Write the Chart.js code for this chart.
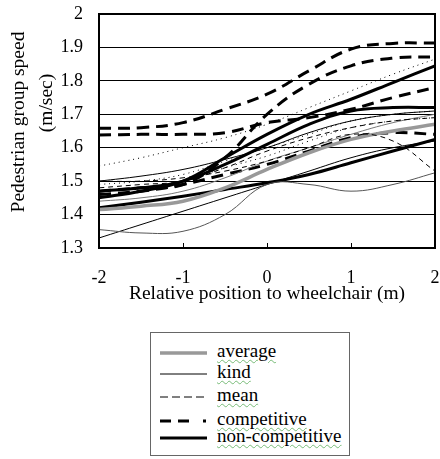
<!DOCTYPE html>
<html>
<head>
<meta charset="utf-8">
<script src="https://cdn.jsdelivr.net/npm/chart.js@4/dist/chart.umd.min.js"></script>
<style>
  html, body { margin: 0; padding: 0; background: #fff; }
  #wrap { position: relative; width: 440px; height: 459px; overflow: hidden; }
  #c { position: absolute; left: 0; top: 0; }
  #legend { position: absolute; left: 150px; top: 332px; width: 200px; height: 124px;
    border: 1px solid #666; box-sizing: border-box;
    font-family: 'Liberation Serif'; font-size: 19px; color: #000; }
  .row { position: absolute; left: 0; height: 20px; width: 100%; }
  .row svg { position: absolute; left: 9px; top: 0; }
  .row span { position: absolute; left: 66px; top: -2px; line-height: 20px;
    text-decoration: underline wavy #7b7; text-decoration-thickness: 1px; text-underline-offset: 2px; }
</style>
</head>
<body>
<div id="wrap">
  <canvas id="c" width="440" height="310"></canvas>
  <div id="legend"></div>
</div>
<script>
// ---- data ----
const xs = [-2, -1.5, -1, -0.5, 0, 0.5, 1, 1.5, 2];
const xTicks = [-2, -1, 0, 1, 2];
const yTicks = [1.3, 1.4, 1.5, 1.6, 1.7, 1.8, 1.9, 2.0];

const competitiveUpper = [1.658, 1.66, 1.675, 1.715, 1.76, 1.83, 1.895, 1.912, 1.913];
const competitiveSteep = [1.47, 1.48, 1.49, 1.57, 1.70, 1.79, 1.845, 1.868, 1.872];
const competitiveFlat  = [1.638, 1.64, 1.64, 1.645, 1.675, 1.69, 1.715, 1.75, 1.78];
const competitiveLow   = [1.46, 1.47, 1.49, 1.52, 1.55, 1.59, 1.63, 1.645, 1.64];

const nonCompSteep = [1.45, 1.47, 1.50, 1.57, 1.64, 1.70, 1.745, 1.795, 1.845];
const nonCompMid   = [1.47, 1.48, 1.50, 1.55, 1.61, 1.67, 1.71, 1.72, 1.72];
const nonCompLow   = [1.42, 1.437, 1.455, 1.475, 1.495, 1.52, 1.555, 1.59, 1.625];

const kindWavy  = [1.355, 1.345, 1.35, 1.40, 1.49, 1.49, 1.47, 1.49, 1.525];
const kindUpper = [1.50, 1.515, 1.535, 1.565, 1.60, 1.645, 1.68, 1.70, 1.71];
const kindLow   = [1.33, 1.37, 1.41, 1.45, 1.49, 1.53, 1.57, 1.60, 1.62];

const averageThick = [1.415, 1.425, 1.44, 1.48, 1.535, 1.585, 1.625, 1.65, 1.67];
const averageThin  = [1.44, 1.45, 1.47, 1.51, 1.56, 1.60, 1.64, 1.675, 1.70];

const meanA = [1.50, 1.50, 1.51, 1.53, 1.56, 1.60, 1.64, 1.62, 1.53];
const meanB = [1.48, 1.49, 1.50, 1.54, 1.59, 1.63, 1.66, 1.68, 1.69];

const dottedA = [1.545, 1.57, 1.60, 1.63, 1.67, 1.72, 1.77, 1.82, 1.865];
const dottedB = [1.49, 1.50, 1.52, 1.56, 1.60, 1.64, 1.68, 1.70, 1.71];
const dottedC = [1.47, 1.48, 1.50, 1.54, 1.575, 1.62, 1.66, 1.68, 1.69];

const legendLabels = ['average', 'kind', 'mean', 'competitive', 'non-competitive'];
const yTitleLines = ['Pedestrian group speed', '(m/sec)'];
const xTitle = 'Relative position to wheelchair (m)';

// ---- styles ----
const FAMILY = "'Liberation Serif'";
const ST = {
  comp:  { borderColor: '#000', borderWidth: 3, borderDash: [12, 7] },
  non:   { borderColor: '#000', borderWidth: 3, borderDash: [] },
  kind:  { borderColor: '#000', borderWidth: 1, borderDash: [] },
  kindG: { borderColor: '#555', borderWidth: 1, borderDash: [] },
  avg:   { borderColor: '#999', borderWidth: 3.5, borderDash: [] },
  avgT:  { borderColor: '#777', borderWidth: 1, borderDash: [] },
  mean:  { borderColor: '#000', borderWidth: 1, borderDash: [5, 4] },
  dot:   { borderColor: '#000', borderWidth: 1, borderDash: [1, 4] }
};
function ds(label, arr, st) {
  return Object.assign({ label, data: xs.map((x, i) => ({ x, y: arr[i] })),
    fill: false, pointRadius: 0, tension: 0.4 }, st);
}
const datasets = [
  ds('dotted', dottedA, ST.dot), ds('dotted', dottedB, ST.dot), ds('dotted', dottedC, ST.dot),
  ds('mean', meanA, ST.mean), ds('mean', meanB, ST.mean),
  ds('kind', kindWavy, ST.kindG), ds('kind', kindUpper, ST.kind), ds('kind', kindLow, ST.kind),
  ds('average', averageThin, ST.avgT), ds('average', averageThick, ST.avg),
  ds('non-competitive', nonCompLow, ST.non), ds('non-competitive', nonCompMid, ST.non), ds('non-competitive', nonCompSteep, ST.non),
  ds('competitive', competitiveLow, ST.comp), ds('competitive', competitiveFlat, ST.comp),
  ds('competitive', competitiveSteep, ST.comp), ds('competitive', competitiveUpper, ST.comp)
];

const frame = {
  id: 'frame',
  afterDatasetsDraw(chart) {
    const { ctx, chartArea: a, scales } = chart;
    ctx.save();
    ctx.strokeStyle = '#000';
    ctx.lineWidth = 1;
    xTicks.forEach(t => {
      const px = Math.round(scales.x.getPixelForValue(t)) + 0.5;
      ctx.beginPath(); ctx.moveTo(px, a.bottom); ctx.lineTo(px, a.bottom - 5); ctx.stroke();
    });
    ctx.lineWidth = 2;
    ctx.strokeRect(a.left, a.top, a.right - a.left, a.bottom - a.top);
    // y-axis title (two separately placed lines, as in the original)
    ctx.fillStyle = '#000';
    ctx.font = '19.5px ' + FAMILY;
    ctx.textAlign = 'center';
    ctx.textBaseline = 'middle';
    const pos = [[19, 122], [47, 103]];
    yTitleLines.forEach((t, i) => {
      ctx.save();
      ctx.translate(pos[i][0], pos[i][1]);
      ctx.rotate(-Math.PI / 2);
      ctx.fillText(t, 0, 0);
      ctx.restore();
    });
    ctx.restore();
  }
};

const font = { family: FAMILY, size: 18 };
const titleFont = { family: FAMILY, size: 19.5 };
new Chart(document.getElementById('c'), {
  type: 'line',
  data: { datasets },
  options: {
    responsive: false, animation: false, devicePixelRatio: 1,
    layout: { padding: { top: 14, right: 5, left: 0, bottom: 0 } },
    plugins: { legend: { display: false }, tooltip: { enabled: false } },
    scales: {
      x: {
        type: 'linear', min: -2, max: 2,
        afterBuildTicks: s => { s.ticks = xTicks.map(v => ({ value: v })); },
        afterFit: s => { s.height = 62; s.paddingLeft = 0; s.paddingRight = 0; },
        grid: { display: true, drawOnChartArea: false, drawTicks: true, tickLength: 19, tickColor: 'rgba(0,0,0,0)' },
        border: { display: false },
        ticks: { color: '#000', font, padding: 0, maxRotation: 0, callback: v => String(v) },
        title: { display: true, text: xTitle, color: '#000', font: titleFont, padding: { top: -4 } }
      },
      y: {
        min: 1.3, max: 2.0,
        afterBuildTicks: s => { s.ticks = yTicks.map(v => ({ value: v })); },
        afterFit: s => { s.width = 99; s.paddingTop = 0; s.paddingBottom = 0; },
        grid: { color: '#000', lineWidth: 1, drawTicks: false },
        border: { display: false },
        ticks: { color: '#000', font, padding: 16, callback: v => String(Number(v.toFixed(1))) },
        title: { display: false }
      }
    }
  },
  plugins: [frame]
});

// ---- HTML legend ----
const legendRows = [
  { top: 10, svg: '<line x1="0" y1="10" x2="47" y2="10" stroke="#999" stroke-width="3.5"/>' },
  { top: 31, svg: '<line x1="0" y1="10" x2="47" y2="10" stroke="#000" stroke-width="1"/>' },
  { top: 54, svg: '<line x1="0" y1="10" x2="47" y2="10" stroke="#000" stroke-width="1" stroke-dasharray="8,4"/>' },
  { top: 78, svg: '<line x1="0" y1="10" x2="36" y2="10" stroke="#000" stroke-width="3" stroke-dasharray="11,7"/><rect x="43" y="8.5" width="3" height="3" fill="#000"/>' },
  { top: 95, svg: '<line x1="0" y1="10" x2="47" y2="10" stroke="#000" stroke-width="3"/>' }
];
const lg = document.getElementById('legend');
legendLabels.forEach((name, i) => {
  const r = document.createElement('div');
  r.className = 'row';
  r.style.top = legendRows[i].top + 'px';
  r.innerHTML = '<svg width="48" height="20">' + legendRows[i].svg + '</svg><span>' + name + '</span>';
  lg.appendChild(r);
});
</script>
</body>
</html>
